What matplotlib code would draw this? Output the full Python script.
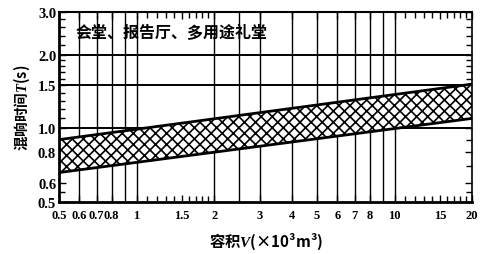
import matplotlib
matplotlib.use('Agg')
import matplotlib.pyplot as plt
from matplotlib.ticker import FixedLocator, NullFormatter

# --- DATA ---
VOLUME = [0.5, 20]            # x10^3 m^3
T_UPPER = [0.90, 1.52]        # s
T_LOWER = [0.66, 1.10]        # s

X_TICKS = [0.5, 0.6, 0.7, 0.8, 1, 1.5, 2, 3, 4, 5, 6, 7, 8, 10, 15, 20]
X_LABELS = ['0.5', '0.6', '0.7', '0.8', '1', '1.5', '2', '3', '4', '5', '6', '7', '8', '10', '15', '20']
Y_TICKS = [0.5, 0.6, 0.8, 1.0, 1.5, 2.0, 3.0]
Y_LABELS = ['0.5', '0.6', '0.8', '1.0', '1.5', '2.0', '3.0']

GRID_X = [0.6, 0.7, 0.8, 0.9, 1, 2, 2.5, 3, 4, 5, 6, 7, 8, 9, 10]
GRID_Y = [1.0, 1.5, 2.0]
MINOR_X = [1.1, 1.2, 1.3, 1.4, 1.6, 1.7, 1.8, 1.9, 11, 12, 13, 14, 16, 17, 18, 19]
MINOR_Y = [0.55, 0.7, 0.9, 1.1, 1.2, 1.3, 1.4, 1.6, 1.7, 1.8, 1.9, 2.2, 2.4, 2.6, 2.8]

TITLE = '会堂、报告厅、多用途礼堂'

plt.rcParams['font.family'] = ['Noto Sans CJK SC', 'DejaVu Sans']
plt.rcParams['mathtext.fontset'] = 'custom'
plt.rcParams['mathtext.it'] = 'Liberation Serif:italic:bold'
plt.rcParams['mathtext.rm'] = 'Liberation Serif:bold'
plt.rcParams['hatch.linewidth'] = 1.2

fig = plt.figure(figsize=(4.95, 2.55), dpi=100)
ax = fig.add_axes([0.119, 0.204, 0.835, 0.745])
ax.set_xscale('log')
ax.set_yscale('log')
ax.set_xlim(0.5, 20)
ax.set_ylim(0.5, 3.0)

# grid lines
for gx in GRID_X:
    ax.axvline(gx, color='black', lw=1.0, zorder=1)
for gy in GRID_Y:
    ax.axhline(gy, color='black', lw=1.4, zorder=1)

# hatched band
ax.fill_between(VOLUME, T_LOWER, T_UPPER, facecolor='white', edgecolor='black',
                hatch='xxx', linewidth=0, zorder=2)
ax.plot(VOLUME, T_UPPER, color='black', lw=2.0, zorder=3)
ax.plot(VOLUME, T_LOWER, color='black', lw=2.0, zorder=3)

# ticks
ax.xaxis.set_major_locator(FixedLocator(X_TICKS))
ax.xaxis.set_minor_locator(FixedLocator(MINOR_X))
ax.yaxis.set_major_locator(FixedLocator(Y_TICKS))
ax.yaxis.set_minor_locator(FixedLocator(MINOR_Y))
ax.xaxis.set_minor_formatter(NullFormatter())
ax.yaxis.set_minor_formatter(NullFormatter())
ax.set_xticklabels(X_LABELS, family='Liberation Serif', fontweight='bold', fontsize=9)
ax.set_yticklabels(Y_LABELS, family='Liberation Serif', fontweight='bold', fontsize=10.5)
ax.tick_params(which='both', direction='in', top=True, right=True, color='black')
ax.tick_params(which='major', length=5, width=1)
ax.tick_params(axis='x', which='major', pad=5)
ax.tick_params(axis='y', which='major', pad=2)
ax.tick_params(which='minor', length=4, width=1)

for side, w in [('left', 2.0), ('bottom', 2.0), ('top', 1.5), ('right', 1.2)]:
    ax.spines[side].set_linewidth(w)

ax.text(0.04, 0.895, TITLE, transform=ax.transAxes, fontsize=11.5,
        fontweight='bold', va='center', ha='left', zorder=4)

ax.set_ylabel('混响时间$\\mathit{T}$(s)', fontsize=10.5, fontweight='bold', labelpad=4)
ax.set_xlabel('容积$\\mathit{V}$(×10³m³)', fontsize=11, fontweight='bold', labelpad=7)

fig.savefig('out.png', dpi=100)
